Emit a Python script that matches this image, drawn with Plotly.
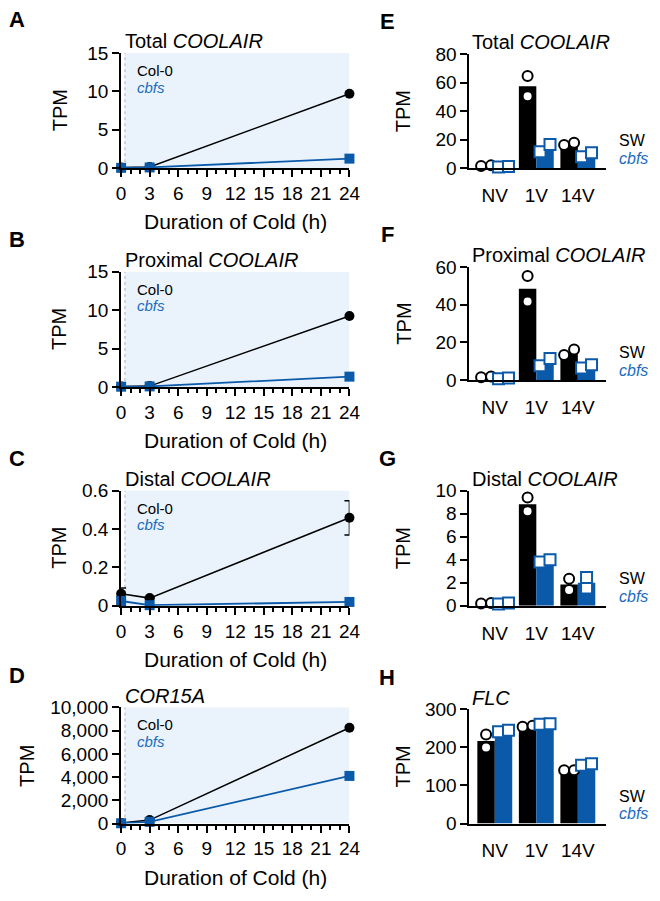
import plotly.graph_objects as go
import numpy as np

W, H = 660, 901
BLUE = '#0B5AAA'
BLUE_TXT = '#1B6CC2'
SHADE = '#EAF3FC'
FONT = 'Liberation Sans, Arial, sans-serif'

# ---- time-course data (left column) ----
hours = [0, 3, 24]
hour_ticks = list(range(0, 25, 3))

total_col0 = [0.10, 0.15, 9.70]
total_cbfs = [0.05, 0.10, 1.25]
prox_col0 = [0.08, 0.12, 9.25]
prox_cbfs = [0.04, 0.08, 1.35]
dist_col0 = [0.063, 0.040, 0.458]
dist_col0_err = [0.030, 0.004, 0.089]
dist_cbfs = [0.025, 0.003, 0.020]
cor_col0 = [60, 300, 8250]
cor_cbfs = [30, 150, 4100]

line_titles = ['Total <i>COOLAIR</i>', 'Proximal <i>COOLAIR</i>',
               'Distal <i>COOLAIR</i>', '<i>COR15A</i>']
line_col0 = [total_col0, prox_col0, dist_col0, cor_col0]
line_cbfs = [total_cbfs, prox_cbfs, dist_cbfs, cor_cbfs]
line_col0_err = [None, None, dist_col0_err, None]
line_ymax = [15, 15, 0.6, 10000]
line_dtick = [5, 5, 0.2, 2000]

# ---- replicate data (right column) ----
groups = ['NV', '1V', '14V']

total_sw = [[1.5, 2.0], [64.5, 50.4], [16.2, 17.8]]
total_cb = [[0.8, 1.2], [11.6, 16.6], [8.0, 10.9]]
prox_sw = [[1.5, 2.0], [55.2, 41.7], [13.3, 16.2]]
prox_cb = [[0.8, 1.2], [7.6, 11.5], [6.4, 8.1]]
dist_sw = [[0.20, 0.25], [9.4, 8.2], [2.35, 1.36]]
dist_cb = [[0.15, 0.25], [3.8, 4.0], [1.55, 2.45]]
flc_sw = [[234, 200], [254, 257], [140, 140]]
flc_cb = [[241, 245], [260.5, 262], [153, 157]]

bar_titles = ['Total <i>COOLAIR</i>', 'Proximal <i>COOLAIR</i>',
              'Distal <i>COOLAIR</i>', '<i>FLC</i>']
bar_sw = [total_sw, prox_sw, dist_sw, flc_sw]
bar_cb = [total_cb, prox_cb, dist_cb, flc_cb]
bar_ymax = [80, 60, 10, 300]
bar_dtick = [20, 20, 2, 100]

# pixel boxes of the plot areas (top, bottom)
left_box = [(44, 162), (268, 386), (492, 610), (714, 833)]
right_box = [(45, 162), (263, 379), (492, 610), (716, 833)]
left_x = (119, 353)
right_x = (476, 616)
bar_range = [-0.61, 2.68]
bar_w = 0.42
dot_dx = 0.12


def px(x):
    return x / W


def py(y):
    return 1 - y / H


fig = go.Figure()
annotations = []
shapes = []


def axis_style(**kw):
    d = dict(showline=True, linewidth=2, linecolor='black', showgrid=False,
             zeroline=False, ticks='outside', ticklen=7, tickwidth=2,
             tickcolor='black', tickfont=dict(size=19, color='black'))
    d.update(kw)
    return d


def text(x, y, s, size=20, color='black', xanchor='left', angle=0):
    annotations.append(dict(x=px(x), y=py(y), xref='paper', yref='paper', text=s,
                            showarrow=False, xanchor=xanchor, yanchor='middle',
                            textangle=angle, font=dict(size=size, color=color)))


layout_axes = {}

for k in range(4):
    n = k + 1
    xr, yr = ('x' if n == 1 else f'x{n}'), ('y' if n == 1 else f'y{n}')
    top, bot = left_box[k]
    layout_axes['xaxis' if n == 1 else f'xaxis{n}'] = axis_style(
        domain=[px(left_x[0]), px(left_x[1])], range=[0, 24], anchor=yr,
        tickvals=hour_ticks,
        minor=dict(dtick=1, ticks='outside', ticklen=4, tickwidth=1.5, tickcolor='black'))
    layout_axes['yaxis' if n == 1 else f'yaxis{n}'] = axis_style(
        domain=[py(bot), py(top)], range=[0, line_ymax[k]], anchor=xr,
        dtick=line_dtick[k], tickformat=',' if line_ymax[k] >= 1000 else None)

    shapes.append(dict(type='rect', xref=xr, yref=yr, x0=0.4, x1=24, y0=0,
                       y1=line_ymax[k], fillcolor=SHADE, line_width=0, layer='below'))
    shapes.append(dict(type='line', xref=xr, yref=yr, x0=0.4, x1=0.4, y0=0,
                       y1=line_ymax[k], line=dict(color='#A8B4C0', width=1, dash='dot'),
                       layer='below'))

    err = line_col0_err[k]
    fig.add_trace(go.Scatter(
        x=hours, y=line_col0[k], mode='lines+markers', xaxis=xr, yaxis=yr,
        line=dict(color='black', width=1.5),
        marker=dict(symbol='circle', size=10, color='black'),
        error_y=dict(type='data', array=err, color='black', thickness=1.5, width=5,
                     visible=err is not None),
        cliponaxis=False, showlegend=False))
    fig.add_trace(go.Scatter(
        x=hours, y=line_cbfs[k], mode='lines+markers', xaxis=xr, yaxis=yr,
        line=dict(color=BLUE, width=1.8),
        marker=dict(symbol='square', size=10, color=BLUE),
        cliponaxis=False, showlegend=False))

    text(121, top - 12, line_titles[k])
    text(133, top + 18, 'Col-0', size=15)
    text(133, top + 35, '<i>cbfs</i>', size=15, color=BLUE_TXT)
    text(236, bot + 55, 'Duration of Cold (h)', size=21, xanchor='center')
    text(23 if line_ymax[k] >= 1000 else 56, (top + bot) / 2, 'TPM',
         xanchor='center', angle=-90)
    text(12, top - 34 if k == 0 else top - 33, '<b>' + 'ABCD'[k] + '</b>', size=22,
         xanchor='center')

for k in range(4):
    n = k + 5
    xr, yr = f'x{n}', f'y{n}'
    top, bot = right_box[k]
    ymax = bar_ymax[k]
    px_per_unit = (bot - top) / ymax
    layout_axes[f'xaxis{n}'] = axis_style(
        domain=[px(right_x[0]), px(right_x[1])], range=bar_range, anchor=yr,
        tickvals=list(range(len(groups))), ticktext=groups, ticks='',
        ticklabelstandoff=9)
    layout_axes[f'yaxis{n}'] = axis_style(
        domain=[py(bot), py(top)], range=[0, ymax], anchor=xr, dtick=bar_dtick[k])

    for reps, shift, color, sym, edge in [
            (bar_sw[k], -bar_w / 2, 'black', 'circle', 'black'),
            (bar_cb[k], bar_w / 2, BLUE, 'square', BLUE)]:
        centers = [i + shift for i in range(len(groups))]
        fig.add_trace(go.Bar(
            x=centers, y=[np.mean(r) for r in reps], width=bar_w,
            marker=dict(color=color, line_width=0), xaxis=xr, yaxis=yr,
            showlegend=False))
        # replicates side by side when they would overlap, else stacked on the bar centre
        dx, dy = [], []
        for c, r in zip(centers, reps):
            r = sorted(r)
            gap = abs(r[1] - r[0]) * px_per_unit
            off = dot_dx if gap < 9 else 0
            dx += [c - off, c + off]
            dy += r
        fig.add_trace(go.Scatter(
            x=dx, y=dy, mode='markers', xaxis=xr, yaxis=yr,
            marker=dict(symbol=sym, size=10 if sym == 'circle' else 11, color='white',
                        line=dict(color=edge, width=2)),
            cliponaxis=False, showlegend=False))

    text(477, top - 12, bar_titles[k])
    text(627, bot - 28, 'SW', size=16)
    text(627, bot - 10, '<i>cbfs</i>', size=16, color=BLUE_TXT)
    text(408, (top + bot) / 2, 'TPM', xanchor='center', angle=-90)
    text(392, top - 33, '<b>' + 'EFGH'[k] + '</b>', size=22, xanchor='center')

fig.update_layout(
    width=W, height=H, autosize=False,
    margin=dict(l=0, r=0, t=0, b=0),
    paper_bgcolor='white', plot_bgcolor='rgba(0,0,0,0)',
    font=dict(family=FONT, color='black'),
    barmode='overlay',
    annotations=annotations, shapes=shapes,
    **layout_axes
)

# keep the fixed-size figure flush with the window (no body margin, no scrollbars)
page_fix = ("document.documentElement.style.overflow='hidden';"
            "document.body.style.margin='0';"
            "document.body.style.overflow='hidden';")
fig.write_html('out.html', config={'displayModeBar': False}, post_script=page_fix)
